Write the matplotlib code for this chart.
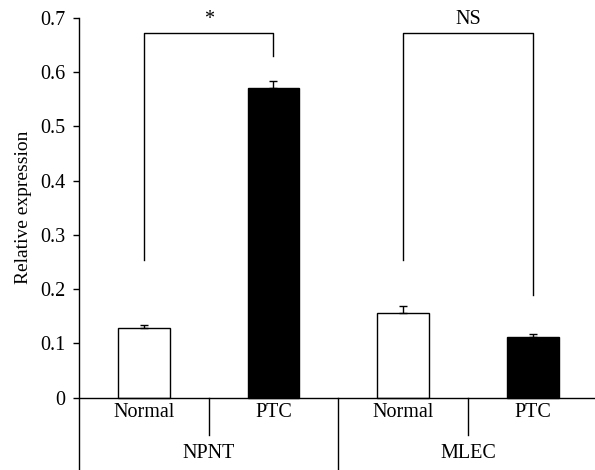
import matplotlib
matplotlib.use("Agg")
import matplotlib.pyplot as plt

# --- data ---
kategoriler = ["Normal", "PTC", "Normal", "PTC"]
gruplar = ["NPNT", "MLEC"]
degerler = [0.128, 0.570, 0.155, 0.111]
hatalar = [0.006, 0.013, 0.014, 0.006]
renkler = ["white", "black", "white", "black"]
yticks = [0, 0.1, 0.2, 0.3, 0.4, 0.5, 0.6, 0.7]
# significance brackets: (left bar, right bar, left foot, right foot, label)
isaretler = [(0, 1, 0.254, 0.629, "*"), (2, 3, 0.254, 0.189, "NS")]
bracket_top = 0.672

plt.rcParams["font.family"] = ["Liberation Serif", "DejaVu Serif"]
FS = 14.5

fig = plt.figure(figsize=(5.95, 4.7), dpi=100)
ax = fig.add_axes([0.1328, 0.0, 0.8672, 0.9617])

x = list(range(len(degerler)))
ax.bar(x, degerler, width=0.4, color=renkler, edgecolor="black", linewidth=1.0, zorder=2)
ax.errorbar(x, degerler, yerr=[[0] * len(hatalar), hatalar], fmt="none",
            ecolor="black", elinewidth=1.0, capsize=3, capthick=1.0, zorder=3)

ax.set_xlim(-0.5, 3.48)
ax.set_ylim(-0.1337, 0.7)

# x axis line at zero
ax.axhline(0, color="black", linewidth=1.0, zorder=4)

# category separators
for xs, ybot in [(0.5, -0.0687), (1.5, -0.1337), (2.5, -0.0687)]:
    ax.plot([xs, xs], [0, ybot], color="black", linewidth=1.0, clip_on=False)

for xi, lab in zip(x, kategoriler):
    ax.text(xi, -0.010, lab, ha="center", va="top", fontsize=FS)
for gi, g in enumerate(gruplar):
    ax.text(0.5 + 2 * gi, -0.085, g, ha="center", va="top", fontsize=FS)

# significance brackets
for a, b, ya, yb, lab in isaretler:
    ax.plot([a, a, b, b], [ya, bracket_top, bracket_top, yb], color="black", linewidth=1.0)
    ax.text((a + b) / 2, bracket_top + 0.008, lab, ha="center", va="bottom", fontsize=FS)

ax.set_yticks(yticks)
ax.set_yticklabels(["0" if t == 0 else f"{t:.1f}" for t in yticks])
ax.tick_params(axis="y", direction="out", length=4, width=1.0, labelsize=FS, pad=6)
ax.tick_params(axis="x", bottom=False, labelbottom=False)
ax.set_ylabel("Relative expression", fontsize=14)
ax.yaxis.set_label_coords(-0.092, (0.35 + 0.1337) / 0.8337)

for s in ["top", "right", "bottom"]:
    ax.spines[s].set_visible(False)
ax.spines["left"].set_linewidth(1.0)

fig.savefig("out.png", dpi=100)
